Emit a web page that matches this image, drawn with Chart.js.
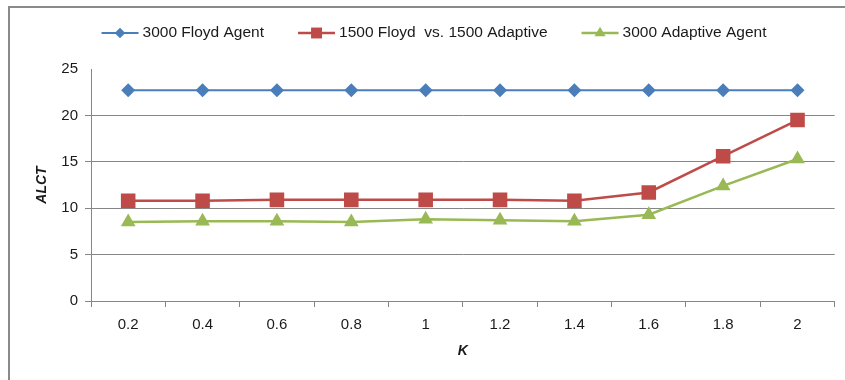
<!DOCTYPE html>
<html>
<head>
<meta charset="utf-8">
<script src="https://cdn.jsdelivr.net/npm/chart.js@4.4.1/dist/chart.umd.min.js"></script>
<style>
  html, body { margin: 0; padding: 0; background: #fff; }
  #wrap { position: relative; width: 845px; height: 380px; overflow: hidden; }
  #frame { position: absolute; left: 8px; top: 6px; width: 900px; height: 420px;
           border-left: 2px solid #8a8a8a; border-top: 2px solid #8a8a8a; box-sizing: border-box; }
  canvas { position: absolute; left: 0; top: 0; }
</style>
</head>
<body>
<div id="wrap">
  <div id="frame"></div>
  <canvas id="c" width="845" height="380"></canvas>
</div>
<script>
// K values along the horizontal axis
const kValues = ['0.2', '0.4', '0.6', '0.8', '1', '1.2', '1.4', '1.6', '1.8', '2'];

// ALCT per configuration
const floydAgent    = [22.7, 22.7, 22.7, 22.7, 22.7, 22.7, 22.7, 22.7, 22.7, 22.7];
const mixedAgents   = [10.8, 10.8, 10.9, 10.9, 10.9, 10.9, 10.8, 11.7, 15.6, 19.5];
const adaptiveAgent = [8.5, 8.6, 8.6, 8.5, 8.8, 8.7, 8.6, 9.3, 12.4, 15.3];

const seriesNames = ['3000 Floyd Agent', '1500 Floyd  vs. 1500 Adaptive', '3000 Adaptive Agent'];
const yTicks = [0, 5, 10, 15, 20, 25];

const FONT = '"Liberation Sans", Arial, sans-serif';

// Legend: short line with the series marker, followed by the name
const lineLegend = {
  id: 'lineLegend',
  afterDraw(chart) {
    const ctx = chart.ctx;
    ctx.save();
    ctx.font = '15.5px ' + FONT;
    const lineLen = 37, gapText = 4, gapItem = 34;
    const items = chart.data.datasets.map(ds => ({ ds, w: ctx.measureText(ds.label).width }));
    const total = items.reduce((s, it) => s + lineLen + gapText + it.w, 0) + gapItem * (items.length - 1);
    let x = 434 - total / 2;
    const y = 33;
    items.forEach(({ ds, w }) => {
      ctx.strokeStyle = ds.borderColor;
      ctx.lineWidth = ds.borderWidth;
      ctx.beginPath();
      ctx.moveTo(x, y);
      ctx.lineTo(x + lineLen, y);
      ctx.stroke();
      ctx.fillStyle = ds.pointBackgroundColor;
      Chart.helpers.drawPoint(ctx, {
        pointStyle: ds.pointStyle, radius: ds.pointRadius * 0.75, rotation: 0, borderWidth: 0
      }, x + lineLen / 2, y);
      ctx.fillStyle = '#1a1a1a';
      ctx.textAlign = 'left';
      ctx.textBaseline = 'middle';
      ctx.fillText(ds.label, x + lineLen + gapText, y);
      x += lineLen + gapText + w + gapItem;
    });
    ctx.restore();
  }
};

new Chart(document.getElementById('c'), {
  type: 'line',
  data: {
    labels: kValues,
    datasets: [
      {
        label: seriesNames[0], data: floydAgent,
        borderColor: '#4A7EBB', backgroundColor: '#4A7EBB', borderWidth: 2,
        pointStyle: 'rectRot', pointRadius: 7, pointBackgroundColor: '#4A7EBB', pointBorderWidth: 0
      },
      {
        label: seriesNames[1], data: mixedAgents,
        borderColor: '#BE4B48', backgroundColor: '#BE4B48', borderWidth: 2.5,
        pointStyle: 'rect', pointRadius: 10.3, pointBackgroundColor: '#BE4B48', pointBorderWidth: 0
      },
      {
        label: seriesNames[2], data: adaptiveAgent,
        borderColor: '#98B954', backgroundColor: '#98B954', borderWidth: 2.5,
        pointStyle: 'triangle', pointRadius: 8.5, pointBackgroundColor: '#98B954', pointBorderWidth: 0
      }
    ]
  },
  options: {
    responsive: false,
    animation: false,
    events: [],
    layout: { padding: { left: 0, top: 69, right: 8, bottom: 0 } },
    plugins: { legend: { display: false }, tooltip: { enabled: false } },
    scales: {
      x: {
        offset: true,
        grid: { offset: true, drawOnChartArea: false, drawTicks: true, tickLength: 6, color: '#868686', lineWidth: 1 },
        border: { color: '#868686', width: 1 },
        ticks: { color: '#1a1a1a', font: { family: FONT, size: 15 }, padding: 9, maxRotation: 0, autoSkip: false },
        title: { display: true, text: 'K', color: '#1a1a1a', font: { family: FONT, size: 14, weight: 'bold', style: 'italic' }, padding: { bottom: 20 } },
        afterFit(scale) { scale.height = 79; }
      },
      y: {
        min: 0, max: 25,
        afterBuildTicks(scale) { scale.ticks = yTicks.map(v => ({ value: v })); },
        grid: {
          color: ctx => (ctx.tick && ctx.tick.value === 25) ? 'rgba(0,0,0,0)' : '#868686',
          tickLength: 6, lineWidth: 1
        },
        border: { color: '#868686', width: 1 },
        ticks: { color: '#1a1a1a', font: { family: FONT, size: 15 }, padding: 7 },
        title: { display: true, text: 'ALCT', color: '#1a1a1a', font: { family: FONT, size: 14, weight: 'bold', style: 'italic' }, padding: { top: 34 } },
        afterFit(scale) { scale.width = 91; }
      }
    }
  },
  plugins: [lineLegend]
});
</script>
</body>
</html>
